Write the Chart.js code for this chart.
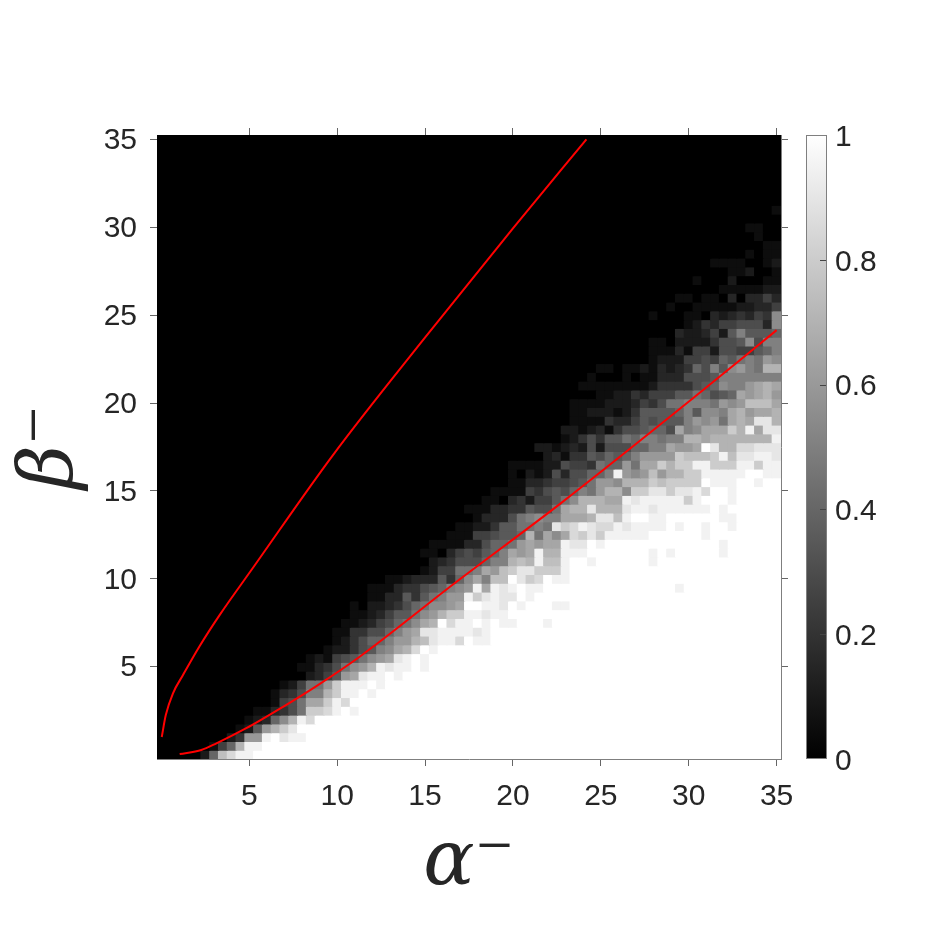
<!DOCTYPE html>
<html>
<head>
<meta charset="utf-8">
<style>
html,body{margin:0;padding:0;background:#fff}
#wrap{position:relative;width:934px;height:934px;background:#fff;overflow:hidden}
canvas{position:absolute;top:0}
#main{left:0}
#cbar{left:790px}
</style>
<script src="https://cdn.jsdelivr.net/npm/chart.js@4/dist/chart.umd.min.js"></script>
</head>
<body>
<div id="wrap">
<canvas id="main" width="934" height="934"></canvas>
<canvas id="cbar" width="144" height="934"></canvas>
</div>
<script>
// Grid of cells: alpha / beta from 0 to 35 in steps of 0.5
const gridValues = Array.from({length:71},(_, i)=>i*0.5);
const tickValues = [5,10,15,20,25,30,35];
const colorbarTicks = [0,0.2,0.4,0.6,0.8,1];
const xTitle = 'α⁻';
const yTitle = 'β⁻';

// For each row (beta index from the bottom): cells before rowStart are 0,
// then rowBand holds the read values in twentieths (0-9, a=10 ... k=20),
// and the cells after the band are 1.
const rowStart = [5,6,8,9,10,11,13,13,14,16,16,17,19,20,20,21,22,22,24,24,26,30,31,30,31,33,34,36,35,37,38,40,40,40,44,43,46,46,47,47,47,50,48,49,50,56,56,56,59,60,56,58,59,64,61,65,63,67,69,68,67,71,70,71,71,71,71,71,71,71,71];
const rowBand = [
"28fhjj",
"158ejj",
"24ccjkijj",
"127cegi",
"1238bejh",
"113469gghjkj",
"1569ddgjh",
"1346aaegjjkj",
"12599cgjjjkj",
"02357cdijjkj",
"113469bcejijjkj",
"1215679bcdijkj",
"122467abdehkj",
"124688accefijjhkjj",
"1144668acdiijjjjij",
"11235689bdekhjjkjkjjkkkj",
"11235779bceggjjijj",
"102234689bbcdkkjjikjkkkjj",
"11337479accjgijiikjk",
"111344678abcjdjijkjjkkkkkkkkkkkkkkkj",
"112333748bdaffkighkjj",
"125599adcfgiigggj",
"2346668aaefejffjkkjkkkkkkj",
"110356578adcdjeejjjkkkkkkkjkjkkkkkj",
"1111336889cdcddjiikjkkkkkkkkkkkkkj",
"111556778e9dbdhgigjjjjjkkkkkkj",
"112247799a9ighjihhjijjjjkjkkjkkj",
"133369abaadddeiifjkkjjkkkkkkjj",
"11133447669deeieeeijjijjjjjjkj",
"1103425579beeeddjijjjjjgjkkkj",
"1111546768a9ceebggiigiijhkkj",
"1133455679ccbeeegfggggkjjjkkjkk",
"10212636688ajcbcfceeggjjjjjkkjj",
"1111226554988c9ddgeggjjgggjjgjj",
"2314476878accccgfffgjfiijji",
"2212326266688aadccdkieehhiii",
"124647798aa9aaeedeeeeeeej",
"2212314667886dabdddgejdii",
"1111433576777acbc9dediie",
"1122212477778a7bbadecdde",
"1111222354699aaa9cbcfffd",
"1122435557798678dcdec",
"1111111124444678baacded",
"100010113336667aaaaaaa9",
"1101121323486a7bca9ee",
"12225565879a9cb",
"11131552665578a",
"11022224667b6aa",
"3223527a7778",
"1243556663b",
"10001103234354b",
"1001111122335",
"110110303353",
"1111122",
"1000200011",
"112001",
"11110012",
"1011",
"11",
"100",
"1100",
"",
"1",
"","","","","","","",""
];

// Two red curves
const upperAlpha = [0.02,0.25,0.66,1.23,2.18,3.32,5.12,9.76,14.88,20,24.18];
const upperBeta  = [1,2.25,3.49,4.53,6.18,7.95,10.5,17.04,23.58,29.94,35];
const lowerAlpha = [1.04,2.27,3.13,4.83,6.92,8.82,11.28,16.68,22.66,30.24,35];
const lowerBeta  = [0.03,0.26,0.64,1.5,2.72,3.9,5.57,9.75,14.25,20.27,24.15];

const DIGITS = '0123456789abcdefghijk';
const cells = [];
const cellColors = [];
gridValues.forEach((beta, r)=>{
  const band = rowBand[r] || '';
  const start = rowStart[r];
  gridValues.forEach((alpha, c)=>{
    let v;
    if (c < start) v = 0;
    else if (c - start < band.length) v = DIGITS.indexOf(band[c - start]) / 20;
    else v = 1;
    const g = Math.round(v * 255);
    cells.push({x: alpha, y: beta});
    cellColors.push(`rgb(${g},${g},${g})`);
  });
});
const pairs = (xs, ys)=>xs.map((x,i)=>({x, y: ys[i]}));

const TEXT = '#262626';
const AXIS = '#7f7f7f';
const FONT = {family:'"Liberation Sans", Arial, sans-serif', size:30};
const setTicks = s => { s.ticks = tickValues.map(v=>({value:v})); };
function axis(position, extra){
  return Object.assign({
    type:'linear', position, min:-0.25, max:35.25,
    afterBuildTicks:setTicks,
    border:{display:true,color:AXIS,width:1},
    grid:{display:true,drawOnChartArea:false,drawTicks:true,tickLength:7,tickWidth:1,tickColor:'#666666'},
  }, extra);
}
const TITLE_FONT = {family:'"DejaVu Serif", serif',style:'italic',size:76};

new Chart(document.getElementById('main'),{
  type:'scatter',
  data:{datasets:[
    {label:'upper',data:pairs(upperAlpha,upperBeta),showLine:true,borderColor:'#ff0000',borderWidth:2,pointRadius:0,cubicInterpolationMode:'monotone',clip:0},
    {label:'lower',data:pairs(lowerAlpha,lowerBeta),showLine:true,borderColor:'#ff0000',borderWidth:2,pointRadius:0,cubicInterpolationMode:'monotone',clip:0},
    {label:'fraction',data:cells,pointStyle:'rect',pointRadius:7.02,pointBorderWidth:0,pointBackgroundColor:cellColors,showLine:false,clip:0}
  ]},
  options:{
    responsive:false,animation:false,events:[],
    layout:{padding:0},
    plugins:{legend:{display:false},tooltip:{enabled:false},title:{display:false}},
    scales:{
      x:axis('bottom',{
        afterFit:s=>{s.height=175;},
        ticks:{font:FONT,color:TEXT,padding:13,maxRotation:0,autoSkip:false,callback:v=>String(v)},
        title:{display:true,text:xTitle,color:TEXT,font:TITLE_FONT,padding:{top:0,bottom:24}}
      }),
      y:axis('left',{
        afterFit:s=>{s.width=157;},
        ticks:{font:FONT,color:TEXT,padding:13,labelOffset:1.5,autoSkip:false,callback:v=>String(v)},
        title:{display:true,text:yTitle,color:TEXT,font:TITLE_FONT,padding:{top:7,bottom:0}}
      }),
      x2:axis('top',{afterFit:s=>{s.height=135;},ticks:{display:false}}),
      y2:axis('right',{afterFit:s=>{s.width=153;},ticks:{display:false}})
    }
  }
});

const innerTicks = {
  id:'innerTicks',
  afterDraw(chart){
    const {ctx,chartArea:a,scales:{y}} = chart;
    ctx.save();
    ctx.strokeStyle='#444444';ctx.lineWidth=1;
    colorbarTicks.slice(1,-1).forEach(v=>{
      const p=Math.round(y.getPixelForValue(v))+0.5;
      ctx.beginPath();ctx.moveTo(a.right-7,p);ctx.lineTo(a.right,p);ctx.stroke();
    });
    ctx.strokeStyle=AXIS;
    ctx.strokeRect(a.left+0.5,a.top+0.5,a.right-a.left-1,a.bottom-a.top-1);
    ctx.restore();
  }
};
new Chart(document.getElementById('cbar'),{
  type:'bar',
  data:{labels:['colorbar'],datasets:[{
    data:[[0,1]],barPercentage:1,categoryPercentage:1,borderWidth:0,
    backgroundColor(c){
      const a=c.chart.chartArea;
      if(!a) return '#888';
      const g=c.chart.ctx.createLinearGradient(0,a.bottom,0,a.top);
      g.addColorStop(0,'#000');g.addColorStop(1,'#fff');
      return g;
    }
  }]},
  options:{
    responsive:false,animation:false,events:[],
    layout:{padding:{left:16,top:135,bottom:175,right:0}},
    plugins:{legend:{display:false},tooltip:{enabled:false}},
    scales:{
      x:{display:false},
      y:{type:'linear',position:'right',min:0,max:1,
        afterBuildTicks:s=>{s.ticks=colorbarTicks.map(v=>({value:v}));},
        afterFit:s=>{s.width=107;},
        border:{display:false},
        grid:{display:false},
        ticks:{font:FONT,color:TEXT,padding:0,labelOffset:2.5,autoSkip:false,callback:v=>String(v)}
      }
    }
  },
  plugins:[innerTicks]
});
</script>
</body>
</html>
